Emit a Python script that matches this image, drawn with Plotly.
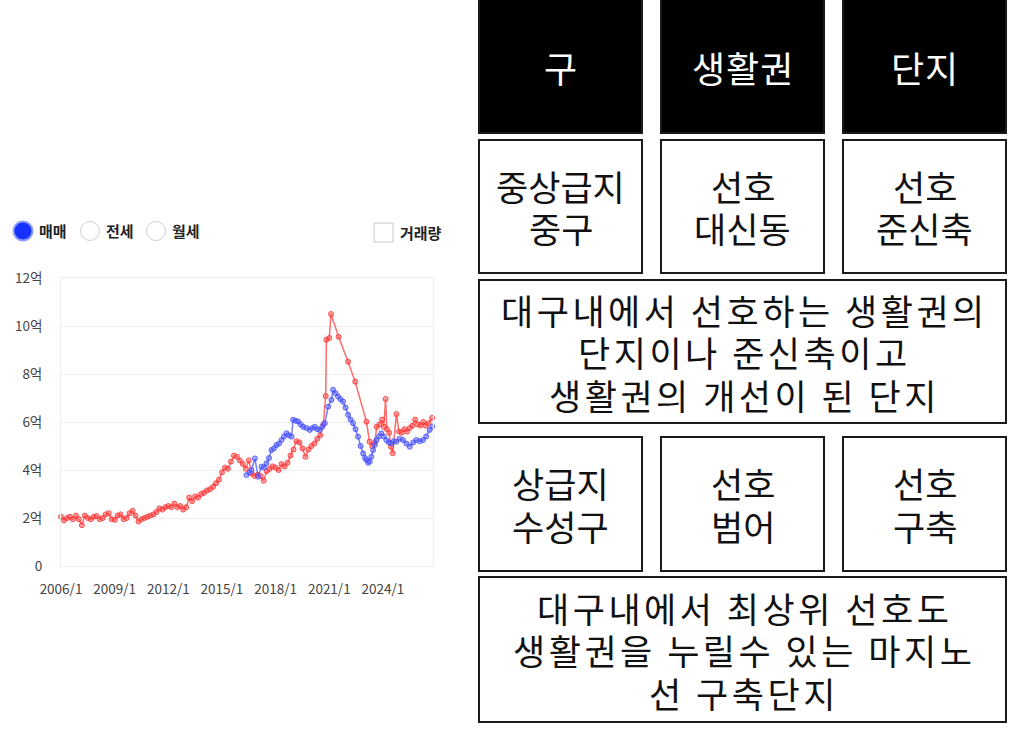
import plotly.graph_objects as go

W, H = 1010, 736

# ---------------- data ----------------
# dense part of the 매매 (red) series, read every 2 months 2006/1 .. 2020/9
red_dense_start = 2006.0
red_dense_step = 1 / 6
red_dense_vals = [
    2.05, 1.90, 2.00, 2.05, 1.95, 2.10, 1.95, 1.70, 2.10, 2.00, 1.95, 2.05,
    2.08, 1.95, 2.00, 2.15, 2.20, 1.95, 1.92, 2.10, 2.15, 1.95, 2.00, 2.20,
    2.30, 2.10, 1.85, 1.95, 2.00, 2.05, 2.10, 2.15, 2.25, 2.40, 2.35, 2.45,
    2.50, 2.45, 2.60, 2.45, 2.50, 2.35, 2.45, 2.85, 2.70, 2.90, 2.85, 3.00,
    3.05, 3.15, 3.20, 3.30, 3.45, 3.60, 3.90, 4.10, 4.05, 4.35, 4.60, 4.55,
    4.40, 4.25, 4.05, 4.40, 3.85, 3.75, 3.80, 3.75, 3.55, 3.95, 4.05, 4.15,
    4.10, 4.00, 4.25, 4.15, 4.30, 4.60, 4.85, 5.20, 5.15, 4.90, 4.55, 4.85,
    5.00, 5.10, 5.30, 5.45, 5.90,
]
# sparse later part of the red series
red_late_x = [2020.80, 2020.84, 2021.00, 2021.10, 2021.52, 2022.05, 2022.45, 2023.08,
              2023.25, 2023.40, 2023.55, 2023.65, 2023.80, 2023.95, 2024.05, 2024.15,
              2024.22, 2024.35, 2024.45, 2024.55, 2024.75, 2024.90, 2025.05, 2025.20,
              2025.35, 2025.50, 2025.65, 2025.80, 2025.95, 2026.10, 2026.25, 2026.40,
              2026.55, 2026.75]
red_late_vals = [7.08, 9.43, 9.50, 10.50, 9.55, 8.51, 7.68, 6.01,
                 5.18, 5.00, 5.15, 5.80, 5.90, 6.10, 5.80, 6.96,
                 5.70, 5.55, 4.96, 4.70, 6.33, 5.60, 5.55, 5.70,
                 5.60, 5.75, 5.85, 6.10, 5.90, 5.85, 6.00, 5.85,
                 5.95, 6.17]

blue_x = [2016.37, 2016.55, 2016.65, 2016.84, 2017.02, 2017.21, 2017.35, 2017.49, 2017.63,
          2017.77, 2017.91, 2018.05, 2018.19, 2018.33, 2018.47, 2018.61, 2018.75, 2018.89,
          2018.98, 2019.12, 2019.26, 2019.40, 2019.54, 2019.72, 2019.91, 2020.05, 2020.19,
          2020.33, 2020.47, 2020.61, 2020.75, 2020.94, 2021.12, 2021.21, 2021.35, 2021.49,
          2021.63, 2021.77, 2021.91, 2022.05, 2022.19, 2022.33, 2022.47, 2022.61, 2022.75,
          2022.89, 2023.00, 2023.08, 2023.17, 2023.26, 2023.35, 2023.45, 2023.55, 2023.64,
          2023.78, 2023.91, 2024.05, 2024.19, 2024.33, 2024.47, 2024.61, 2024.75, 2024.93,
          2025.12, 2025.31, 2025.50, 2025.69, 2025.87, 2026.05, 2026.24, 2026.42, 2026.61,
          2026.76]
blue_vals = [3.79, 3.90, 4.00, 4.48, 3.72, 4.14, 4.10, 4.28, 4.50,
             4.83, 4.90, 5.04, 5.10, 5.25, 5.40, 5.53, 5.45, 5.39,
             6.09, 6.05, 6.02, 5.90, 5.80, 5.75, 5.67, 5.75, 5.80,
             5.70, 5.67, 5.80, 5.95, 6.64, 6.92, 7.34, 7.20, 7.06,
             6.95, 6.85, 6.60, 6.30, 6.10, 5.95, 5.70, 5.39, 5.00,
             4.69, 4.50, 4.42, 4.30, 4.35, 4.55, 4.83, 5.05, 5.25,
             5.40, 5.53, 5.40, 5.25, 5.15, 5.11, 5.20, 5.18, 5.30,
             5.25, 5.10, 4.97, 5.15, 5.25, 5.20, 5.25, 5.40, 5.67,
             5.81]

x_tick_vals = [2006, 2009, 2012, 2015, 2018, 2021, 2024]
x_tick_text = ["2006/1", "2009/1", "2012/1", "2015/1", "2018/1", "2021/1", "2024/1"]
y_tick_vals = [0, 2, 4, 6, 8, 10, 12]
y_tick_text = ["0", "2억", "4억", "6억", "8억", "10억", "12억"]

radio_labels = ["매매", "전세", "월세"]
check_label = "거래량"

header_labels = ["구", "생활권", "단지"]
row2_labels = [["중상급지", "중구"], ["선호", "대신동"], ["선호", "준신축"]]
wide1_lines = ["대구내에서 선호하는 생활권의", "단지이나 준신축이고", "생활권의 개선이 된 단지"]
row4_labels = [["상급지", "수성구"], ["선호", "범어"], ["선호", "구축"]]
wide2_lines = ["대구내에서 최상위 선호도", "생활권을 누릴수 있는 마지노", "선 구축단지"]

# ---------------- figure ----------------
red_x = [red_dense_start + i * red_dense_step for i in range(len(red_dense_vals))] + red_late_x
red_y = red_dense_vals + red_late_vals

FONT = "Noto Sans CJK KR"

def px(x):
    return x / W

def py(y):
    return 1 - y / H

fig = go.Figure()
fig.add_trace(go.Scatter(
    x=red_x, y=red_y, mode="lines+markers",
    line=dict(color="rgba(255,60,60,0.75)", width=1.5),
    marker=dict(size=5, color="rgba(255,90,90,0.5)", line=dict(color="rgba(255,40,40,0.8)", width=1)),
    hoverinfo="skip", showlegend=False, cliponaxis=False,
))
fig.add_trace(go.Scatter(
    x=blue_x, y=blue_vals, mode="lines+markers",
    line=dict(color="rgba(70,80,255,0.75)", width=1.5),
    marker=dict(size=5, color="rgba(100,110,255,0.5)", line=dict(color="rgba(60,70,255,0.8)", width=1)),
    hoverinfo="skip", showlegend=False, cliponaxis=False,
))

shapes = []
annotations = []

# radio buttons & checkbox
radio_cx = [23, 90, 156]
radio_tx = [53, 120, 186]
for i, (cx, tx, lab) in enumerate(zip(radio_cx, radio_tx, radio_labels)):
    r = 9.5
    if i == 0:
        shapes.append(dict(type="circle", xref="paper", yref="paper",
                           x0=px(cx - r), x1=px(cx + r), y0=py(231 + r), y1=py(231 - r),
                           fillcolor="#1530ff", line=dict(color="#8b9cff", width=2)))
    else:
        shapes.append(dict(type="circle", xref="paper", yref="paper",
                           x0=px(cx - r), x1=px(cx + r), y0=py(231 + r), y1=py(231 - r),
                           fillcolor="white", line=dict(color="#d0d0d0", width=1)))
    annotations.append(dict(text="<b>" + lab + "</b>", x=px(tx), y=py(231), xref="paper", yref="paper",
                            xanchor="center", yanchor="middle", showarrow=False,
                            font=dict(family=FONT, size=15, color="#222")))
shapes.append(dict(type="rect", xref="paper", yref="paper",
                   x0=px(374), x1=px(393), y0=py(242), y1=py(223),
                   fillcolor="white", line=dict(color="#c8c8c8", width=1)))
annotations.append(dict(text="<b>" + check_label + "</b>", x=px(421), y=py(232), xref="paper", yref="paper",
                        xanchor="center", yanchor="middle", showarrow=False,
                        font=dict(family=FONT, size=15, color="#222")))

# right side boxes
cols = [(479, 642), (661, 824), (843, 1006)]
LINE_GAP = 42.5

def box(x0, x1, y0, y1, fill="white"):
    shapes.append(dict(type="rect", xref="paper", yref="paper",
                       x0=px(x0), x1=px(x1), y0=py(y1), y1=py(y0),
                       fillcolor=fill, line=dict(color="#1a1a1a", width=2), layer="below"))

def label(texts, cx, cy, size=35, color="#111", spacing=0.0):
    n = len(texts)
    for k, t in enumerate(texts):
        yy = cy + (k - (n - 1) / 2) * LINE_GAP
        body = '<span style="letter-spacing:%.1fpx">%s</span>' % (spacing, t) if spacing else t
        annotations.append(dict(text=body, x=px(cx + spacing / 2), y=py(yy), xref="paper", yref="paper",
                                xanchor="center", yanchor="middle", showarrow=False,
                                font=dict(family=FONT, size=size, color=color)))

for (x0, x1), lab in zip(cols, header_labels):
    box(x0, x1, -2, 133, fill="black")
    label([lab], (x0 + x1) / 2, 67, size=36, color="white", spacing=1)
for (x0, x1), labs in zip(cols, row2_labels):
    box(x0, x1, 140, 273)
    label(labs, (x0 + x1) / 2, 206.5)
box(479, 1006, 280, 423)
label(wide1_lines, 742.5, 351.5, spacing=3.5)
for (x0, x1), labs in zip(cols, row4_labels):
    box(x0, x1, 437, 571)
    label(labs, (x0 + x1) / 2, 504)
box(479, 1006, 577, 722)
label(wide2_lines, 742.5, 649.5, spacing=3.5)

fig.update_layout(
    width=W, height=H, margin=dict(l=0, r=0, t=0, b=0, pad=0), autosize=False,
    paper_bgcolor="white", plot_bgcolor="white",
    shapes=shapes, annotations=annotations,
    xaxis=dict(domain=[px(61), px(433)], range=[2006.0, 2026.8], automargin=False,
               tickvals=x_tick_vals, ticktext=x_tick_text, showgrid=False, zeroline=False,
               showline=True, linecolor="#eeeeee", mirror=True, ticks="",
               tickfont=dict(family=FONT, size=13.5, color="#444"), ticklabelstandoff=11),
    yaxis=dict(domain=[py(566), py(278)], range=[0, 12], automargin=False,
               tickvals=y_tick_vals, ticktext=y_tick_text, showgrid=True, gridcolor="#eeeeee",
               zeroline=False, showline=True, linecolor="#eeeeee", mirror=True, ticks="",
               tickfont=dict(family=FONT, size=13.5, color="#444"), ticklabelstandoff=15),
)

fig.write_html("out.html", config={"displayModeBar": False},
               post_script="document.body.style.margin='0px';document.body.style.overflow='hidden';")
